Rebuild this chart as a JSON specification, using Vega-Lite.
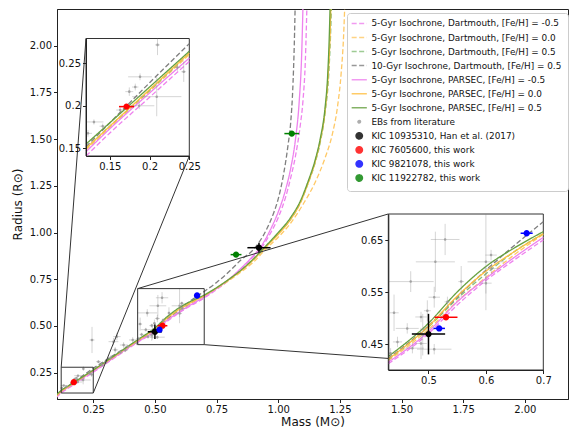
{
"$schema":"https://vega.github.io/schema/vega-lite/v6.json",
"width":511,"height":390,
"autosize":{"type":"none"},
"padding":{"left":57,"top":9,"right":1,"bottom":31},
"config":{
 "font":"DejaVu Sans",
 "view":{"stroke":"#222","strokeWidth":1},
 "axis":{"grid":false,"labelFontSize":10,"labelColor":"#111","tickColor":"#222","domainColor":"#222","tickSize":3.5,"labelFlush":false,"labelOverlap":false,"titleFontSize":12,"titleFontWeight":"normal","titleColor":"#111","labelPadding":2},
 "legend":{"symbolFillColor":"transparent","symbolStrokeColor":"transparent","symbolStrokeWidth":1.5,"symbolSize":40}
},
"datasets":{
 "curves":[
{"s":"D-0.5","m":0.10,"r":0.116},{"s":"D-0.5","m":0.12,"r":0.141},{"s":"D-0.5","m":0.15,"r":0.168},{"s":"D-0.5","m":0.20,"r":0.21},{"s":"D-0.5","m":0.25,"r":0.252},{"s":"D-0.5","m":0.30,"r":0.297},{"s":"D-0.5","m":0.35,"r":0.342},{"s":"D-0.5","m":0.40,"r":0.386},{"s":"D-0.5","m":0.43,"r":0.412},{"s":"D-0.5","m":0.50,"r":0.47},{"s":"D-0.5","m":0.55,"r":0.525},{"s":"D-0.5","m":0.60,"r":0.572},{"s":"D-0.5","m":0.65,"r":0.612},{"s":"D-0.5","m":0.70,"r":0.65},{"s":"D-0.5","m":0.75,"r":0.695},{"s":"D-0.5","m":0.80,"r":0.745},{"s":"D-0.5","m":0.85,"r":0.805},{"s":"D-0.5","m":0.90,"r":0.872},{"s":"D-0.5","m":0.93,"r":0.915},{"s":"D-0.5","m":0.97,"r":1.0},{"s":"D-0.5","m":1.00,"r":1.08},{"s":"D-0.5","m":1.03,"r":1.19},{"s":"D-0.5","m":1.05,"r":1.29},{"s":"D-0.5","m":1.07,"r":1.41},{"s":"D-0.5","m":1.09,"r":1.58},{"s":"D-0.5","m":1.10,"r":1.70},{"s":"D-0.5","m":1.11,"r":1.92},{"s":"D-0.5","m":1.118,"r":2.3},
{"s":"D0.0","m":0.10,"r":0.123},{"s":"D0.0","m":0.12,"r":0.148},{"s":"D0.0","m":0.15,"r":0.174},{"s":"D0.0","m":0.20,"r":0.217},{"s":"D0.0","m":0.25,"r":0.26},{"s":"D0.0","m":0.30,"r":0.303},{"s":"D0.0","m":0.35,"r":0.347},{"s":"D0.0","m":0.40,"r":0.39},{"s":"D0.0","m":0.43,"r":0.418},{"s":"D0.0","m":0.50,"r":0.478},{"s":"D0.0","m":0.55,"r":0.532},{"s":"D0.0","m":0.60,"r":0.578},{"s":"D0.0","m":0.65,"r":0.622},{"s":"D0.0","m":0.70,"r":0.661},{"s":"D0.0","m":0.75,"r":0.70},{"s":"D0.0","m":0.80,"r":0.743},{"s":"D0.0","m":0.85,"r":0.79},{"s":"D0.0","m":0.90,"r":0.842},{"s":"D0.0","m":0.95,"r":0.912},{"s":"D0.0","m":1.00,"r":0.975},{"s":"D0.0","m":1.05,"r":1.05},{"s":"D0.0","m":1.10,"r":1.15},{"s":"D0.0","m":1.15,"r":1.27},{"s":"D0.0","m":1.19,"r":1.40},{"s":"D0.0","m":1.22,"r":1.53},{"s":"D0.0","m":1.24,"r":1.67},{"s":"D0.0","m":1.255,"r":1.85},{"s":"D0.0","m":1.265,"r":2.05},{"s":"D0.0","m":1.272,"r":2.3},
{"s":"D0.5","m":0.10,"r":0.125},{"s":"D0.5","m":0.12,"r":0.15},{"s":"D0.5","m":0.15,"r":0.176},{"s":"D0.5","m":0.20,"r":0.218},{"s":"D0.5","m":0.25,"r":0.262},{"s":"D0.5","m":0.30,"r":0.305},{"s":"D0.5","m":0.35,"r":0.348},{"s":"D0.5","m":0.40,"r":0.392},{"s":"D0.5","m":0.43,"r":0.42},{"s":"D0.5","m":0.50,"r":0.483},{"s":"D0.5","m":0.55,"r":0.537},{"s":"D0.5","m":0.60,"r":0.585},{"s":"D0.5","m":0.65,"r":0.628},{"s":"D0.5","m":0.70,"r":0.662},{"s":"D0.5","m":0.75,"r":0.703},{"s":"D0.5","m":0.80,"r":0.748},{"s":"D0.5","m":0.85,"r":0.798},{"s":"D0.5","m":0.90,"r":0.855},{"s":"D0.5","m":0.94,"r":0.91},{"s":"D0.5","m":1.00,"r":0.995},{"s":"D0.5","m":1.05,"r":1.07},{"s":"D0.5","m":1.09,"r":1.16},{"s":"D0.5","m":1.12,"r":1.26},{"s":"D0.5","m":1.15,"r":1.375},{"s":"D0.5","m":1.17,"r":1.48},{"s":"D0.5","m":1.19,"r":1.64},{"s":"D0.5","m":1.205,"r":1.85},{"s":"D0.5","m":1.212,"r":2.05},{"s":"D0.5","m":1.218,"r":2.3},
{"s":"D10","m":0.10,"r":0.127},{"s":"D10","m":0.12,"r":0.152},{"s":"D10","m":0.15,"r":0.18},{"s":"D10","m":0.20,"r":0.227},{"s":"D10","m":0.25,"r":0.273},{"s":"D10","m":0.30,"r":0.316},{"s":"D10","m":0.35,"r":0.358},{"s":"D10","m":0.40,"r":0.398},{"s":"D10","m":0.43,"r":0.422},{"s":"D10","m":0.50,"r":0.485},{"s":"D10","m":0.55,"r":0.54},{"s":"D10","m":0.60,"r":0.592},{"s":"D10","m":0.65,"r":0.64},{"s":"D10","m":0.70,"r":0.685},{"s":"D10","m":0.75,"r":0.733},{"s":"D10","m":0.80,"r":0.79},{"s":"D10","m":0.85,"r":0.855},{"s":"D10","m":0.90,"r":0.91},{"s":"D10","m":0.95,"r":1.01},{"s":"D10","m":0.98,"r":1.10},{"s":"D10","m":1.00,"r":1.18},{"s":"D10","m":1.02,"r":1.30},{"s":"D10","m":1.04,"r":1.47},{"s":"D10","m":1.05,"r":1.58},{"s":"D10","m":1.06,"r":1.80},{"s":"D10","m":1.065,"r":2.0},{"s":"D10","m":1.07,"r":2.3},
{"s":"P-0.5","m":0.10,"r":0.121},{"s":"P-0.5","m":0.12,"r":0.146},{"s":"P-0.5","m":0.15,"r":0.173},{"s":"P-0.5","m":0.20,"r":0.215},{"s":"P-0.5","m":0.25,"r":0.256},{"s":"P-0.5","m":0.30,"r":0.30},{"s":"P-0.5","m":0.35,"r":0.345},{"s":"P-0.5","m":0.40,"r":0.39},{"s":"P-0.5","m":0.43,"r":0.415},{"s":"P-0.5","m":0.50,"r":0.474},{"s":"P-0.5","m":0.55,"r":0.531},{"s":"P-0.5","m":0.60,"r":0.576},{"s":"P-0.5","m":0.65,"r":0.617},{"s":"P-0.5","m":0.70,"r":0.655},{"s":"P-0.5","m":0.75,"r":0.70},{"s":"P-0.5","m":0.80,"r":0.75},{"s":"P-0.5","m":0.85,"r":0.81},{"s":"P-0.5","m":0.90,"r":0.878},{"s":"P-0.5","m":0.93,"r":0.925},{"s":"P-0.5","m":0.97,"r":1.02},{"s":"P-0.5","m":1.00,"r":1.11},{"s":"P-0.5","m":1.03,"r":1.23},{"s":"P-0.5","m":1.05,"r":1.34},{"s":"P-0.5","m":1.07,"r":1.50},{"s":"P-0.5","m":1.085,"r":1.70},{"s":"P-0.5","m":1.095,"r":1.95},{"s":"P-0.5","m":1.102,"r":2.3},
{"s":"P0.0","m":0.10,"r":0.124},{"s":"P0.0","m":0.12,"r":0.15},{"s":"P0.0","m":0.15,"r":0.176},{"s":"P0.0","m":0.20,"r":0.219},{"s":"P0.0","m":0.25,"r":0.262},{"s":"P0.0","m":0.30,"r":0.306},{"s":"P0.0","m":0.35,"r":0.35},{"s":"P0.0","m":0.40,"r":0.395},{"s":"P0.0","m":0.43,"r":0.421},{"s":"P0.0","m":0.50,"r":0.484},{"s":"P0.0","m":0.55,"r":0.542},{"s":"P0.0","m":0.60,"r":0.59},{"s":"P0.0","m":0.65,"r":0.628},{"s":"P0.0","m":0.70,"r":0.662},{"s":"P0.0","m":0.75,"r":0.703},{"s":"P0.0","m":0.80,"r":0.748},{"s":"P0.0","m":0.85,"r":0.797},{"s":"P0.0","m":0.90,"r":0.855},{"s":"P0.0","m":0.94,"r":0.91},{"s":"P0.0","m":1.00,"r":0.99},{"s":"P0.0","m":1.05,"r":1.07},{"s":"P0.0","m":1.09,"r":1.16},{"s":"P0.0","m":1.12,"r":1.26},{"s":"P0.0","m":1.15,"r":1.38},{"s":"P0.0","m":1.17,"r":1.49},{"s":"P0.0","m":1.19,"r":1.65},{"s":"P0.0","m":1.202,"r":1.83},{"s":"P0.0","m":1.21,"r":2.05},{"s":"P0.0","m":1.215,"r":2.3},
{"s":"P0.5","m":0.10,"r":0.13},{"s":"P0.5","m":0.12,"r":0.155},{"s":"P0.5","m":0.15,"r":0.18},{"s":"P0.5","m":0.20,"r":0.222},{"s":"P0.5","m":0.25,"r":0.264},{"s":"P0.5","m":0.30,"r":0.309},{"s":"P0.5","m":0.35,"r":0.354},{"s":"P0.5","m":0.40,"r":0.399},{"s":"P0.5","m":0.43,"r":0.426},{"s":"P0.5","m":0.50,"r":0.49},{"s":"P0.5","m":0.55,"r":0.55},{"s":"P0.5","m":0.60,"r":0.599},{"s":"P0.5","m":0.65,"r":0.635},{"s":"P0.5","m":0.70,"r":0.666},{"s":"P0.5","m":0.75,"r":0.705},{"s":"P0.5","m":0.80,"r":0.75},{"s":"P0.5","m":0.85,"r":0.80},{"s":"P0.5","m":0.90,"r":0.86},{"s":"P0.5","m":0.94,"r":0.915},{"s":"P0.5","m":1.00,"r":1.0},{"s":"P0.5","m":1.05,"r":1.08},{"s":"P0.5","m":1.09,"r":1.17},{"s":"P0.5","m":1.12,"r":1.27},{"s":"P0.5","m":1.15,"r":1.39},{"s":"P0.5","m":1.17,"r":1.50},{"s":"P0.5","m":1.19,"r":1.67},{"s":"P0.5","m":1.20,"r":1.83},{"s":"P0.5","m":1.207,"r":2.05},{"s":"P0.5","m":1.212,"r":2.3}
 ],
 "ebs":[
{"s":"EB","m":0.21,"r":0.2715,"mlo":0.207,"mhi":0.213,"rlo":0.2595,"rhi":0.2835},
{"s":"EB","m":0.188,"r":0.234,"mlo":0.173,"mhi":0.203,"rlo":0.230,"rhi":0.238},
{"s":"EB","m":0.1745,"r":0.2166,"mlo":0.1695,"mhi":0.1795,"rlo":0.2116,"rhi":0.2216},
{"s":"EB","m":0.182,"r":0.222,"mlo":0.178,"mhi":0.186,"rlo":0.218,"rhi":0.226},
{"s":"EB","m":0.187,"r":0.200,"mlo":0.168,"mhi":0.206,"rlo":0.196,"rhi":0.204},
{"s":"EB","m":0.209,"r":0.2107,"mlo":0.178,"mhi":0.24,"rlo":0.1877,"rhi":0.2337},
{"s":"EB","m":0.243,"r":0.240,"mlo":0.24,"mhi":0.246,"rlo":0.228,"rhi":0.252},
{"s":"EB","m":0.235,"r":0.245,"mlo":0.231,"mhi":0.239,"rlo":0.241,"rhi":0.249},
{"s":"EB","m":0.1225,"r":0.1676,"mlo":0.1175,"mhi":0.1275,"rlo":0.1636,"rhi":0.1716},
{"s":"EB","m":0.141,"r":0.176,"mlo":0.137,"mhi":0.145,"rlo":0.173,"rhi":0.179},
{"s":"EB","m":0.163,"r":0.195,"mlo":0.158,"mhi":0.168,"rlo":0.191,"rhi":0.199},
{"s":"EB","m":0.13,"r":0.181,"mlo":0.118,"mhi":0.142,"rlo":0.178,"rhi":0.184},
{"s":"EB","m":0.245,"r":0.425,"mlo":0.235,"mhi":0.255,"rlo":0.355,"rhi":0.495},
{"s":"EB","m":0.271,"r":0.309,"mlo":0.261,"mhi":0.281,"rlo":0.301,"rhi":0.317},
{"s":"EB","m":0.285,"r":0.291,"mlo":0.275,"mhi":0.295,"rlo":0.281,"rhi":0.301},
{"s":"EB","m":0.30,"r":0.305,"mlo":0.292,"mhi":0.308,"rlo":0.297,"rhi":0.313},
{"s":"EB","m":0.32,"r":0.33,"mlo":0.31,"mhi":0.33,"rlo":0.318,"rhi":0.342},
{"s":"EB","m":0.339,"r":0.372,"mlo":0.327,"mhi":0.351,"rlo":0.357,"rhi":0.387},
{"s":"EB","m":0.346,"r":0.443,"mlo":0.331,"mhi":0.361,"rlo":0.423,"rhi":0.463},
{"s":"EB","m":0.373,"r":0.398,"mlo":0.358,"mhi":0.388,"rlo":0.383,"rhi":0.413},
{"s":"EB","m":0.332,"r":0.416,"mlo":0.312,"mhi":0.352,"rlo":0.396,"rhi":0.436},
{"s":"EB","m":0.38,"r":0.37,"mlo":0.37,"mhi":0.39,"rlo":0.36,"rhi":0.38},
{"s":"EB","m":0.39,"r":0.39,"mlo":0.378,"mhi":0.402,"rlo":0.38,"rhi":0.40},
{"s":"EB","m":0.41,"r":0.425,"mlo":0.395,"mhi":0.425,"rlo":0.41,"rhi":0.44},
{"s":"EB","m":0.427,"r":0.407,"mlo":0.417,"mhi":0.437,"rlo":0.397,"rhi":0.417},
{"s":"EB","m":0.36,"r":0.36,"mlo":0.35,"mhi":0.37,"rlo":0.35,"rhi":0.37},
{"s":"EB","m":0.529,"r":0.651,"mlo":0.504,"mhi":0.554,"rlo":0.621,"rhi":0.681},
{"s":"EB","m":0.512,"r":0.608,"mlo":0.478,"mhi":0.546,"rlo":0.55,"rhi":0.666},
{"s":"EB","m":0.469,"r":0.570,"mlo":0.429,"mhi":0.509,"rlo":0.55,"rhi":0.59},
{"s":"EB","m":0.510,"r":0.540,"mlo":0.50,"mhi":0.52,"rlo":0.52,"rhi":0.56},
{"s":"EB","m":0.557,"r":0.570,"mlo":0.552,"mhi":0.562,"rlo":0.54,"rhi":0.60},
{"s":"EB","m":0.533,"r":0.531,"mlo":0.528,"mhi":0.538,"rlo":0.521,"rhi":0.541},
{"s":"EB","m":0.600,"r":0.608,"mlo":0.568,"mhi":0.632,"rlo":0.515,"rhi":0.701},
{"s":"EB","m":0.609,"r":0.621,"mlo":0.599,"mhi":0.619,"rlo":0.611,"rhi":0.631},
{"s":"EB","m":0.600,"r":0.567,"mlo":0.59,"mhi":0.61,"rlo":0.547,"rhi":0.587},
{"s":"EB","m":0.61,"r":0.595,"mlo":0.595,"mhi":0.625,"rlo":0.585,"rhi":0.605},
{"s":"EB","m":0.44,"r":0.51,"mlo":0.432,"mhi":0.448,"rlo":0.475,"rhi":0.545},
{"s":"EB","m":0.463,"r":0.48,"mlo":0.443,"mhi":0.483,"rlo":0.47,"rhi":0.49},
{"s":"EB","m":0.487,"r":0.502,"mlo":0.477,"mhi":0.497,"rlo":0.492,"rhi":0.512},
{"s":"EB","m":0.498,"r":0.514,"mlo":0.492,"mhi":0.504,"rlo":0.494,"rhi":0.534},
{"s":"EB","m":0.487,"r":0.451,"mlo":0.477,"mhi":0.497,"rlo":0.421,"rhi":0.481},
{"s":"EB","m":0.446,"r":0.454,"mlo":0.438,"mhi":0.454,"rlo":0.444,"rhi":0.464},
{"s":"EB","m":0.472,"r":0.442,"mlo":0.452,"mhi":0.492,"rlo":0.432,"rhi":0.452},
{"s":"EB","m":0.51,"r":0.44,"mlo":0.48,"mhi":0.54,"rlo":0.43,"rhi":0.45},
{"s":"EB","m":0.434,"r":0.432,"mlo":0.424,"mhi":0.444,"rlo":0.422,"rhi":0.442},
{"s":"EB","m":0.49,"r":0.468,"mlo":0.485,"mhi":0.495,"rlo":0.428,"rhi":0.508}
 ],
 "kic":[
{"s":"K1","m":0.922,"r":0.919,"mlo":0.875,"mhi":0.969,"rlo":0.892,"rhi":0.946},
{"s":"K1","m":0.500,"r":0.469,"mlo":0.471,"mhi":0.529,"rlo":0.430,"rhi":0.508},
{"s":"K2","m":0.5305,"r":0.5014,"mlo":0.5105,"mhi":0.5505,"rlo":0.4984,"rhi":0.5044},
{"s":"K2","m":0.171,"r":0.199,"mlo":0.1615,"mhi":0.1805,"rlo":0.196,"rhi":0.202},
{"s":"K3","m":0.671,"r":0.663,"mlo":0.6605,"mhi":0.6815,"rlo":0.660,"rhi":0.666},
{"s":"K3","m":0.5187,"r":0.480,"mlo":0.5087,"mhi":0.5287,"rlo":0.477,"rhi":0.483},
{"s":"K4","m":1.055,"r":1.53,"mlo":1.025,"mhi":1.085,"rlo":1.52,"rhi":1.54},
{"s":"K4","m":0.829,"r":0.882,"mlo":0.807,"mhi":0.851,"rlo":0.877,"rhi":0.887}
 ]
},
"layer":[
 {"layer":[
  {"data":{"name":"curves"},"mark":{"type":"line","strokeWidth":1.3,"clip":true,"interpolate":"monotone"},
   "encoding":{
    "x":{"field":"m","type":"quantitative","title":"Mass (M⊙)","scale":{"domain":[0.103,2.175],"nice":false,"zero":false},"axis":{"values":[0.25,0.5,0.75,1,1.25,1.5,1.75,2],"format":".2f","titlePadding":2}},
    "y":{"field":"r","type":"quantitative","title":"Radius (R⊙)","scale":{"domain":[0.109,2.197],"nice":false,"zero":false},"axis":{"values":[0.25,0.5,0.75,1,1.25,1.5,1.75,2],"format":".2f","titlePadding":5}},
    "color":{"field":"s","type":"nominal","title":null,
      "scale":{"domain":["D-0.5","D0.0","D0.5","D10","P-0.5","P0.0","P0.5","EB","K1","K2","K3","K4"],
               "range":["#EE82EE","#FFC966","#86BF7A","#7F7F7F","#EE82EE","#FFBF40","#66A040","#999999","#000000","#FF0000","#0000FF","#008000"]},
      "legend":{"title":null,"orient":"none","legendX":290,"legendY":4,"padding":6,"strokeColor":"#ccc","fillColor":"white","cornerRadius":3,"labelFontSize":8.9,"labelColor":"#111","labelLimit":400,"rowPadding":1.05,"gridAlign":"all","symbolOffset":1.8,"labelOffset":7.7,
        "labelExpr":"{'D-0.5':'5-Gyr Isochrone, Dartmouth, [Fe/H] = -0.5','D0.0':'5-Gyr Isochrone, Dartmouth, [Fe/H] = 0.0','D0.5':'5-Gyr Isochrone, Dartmouth, [Fe/H] = 0.5','D10':'10-Gyr Isochrone, Dartmouth, [Fe/H] = 0.5','P-0.5':'5-Gyr Isochrone, PARSEC, [Fe/H] = -0.5','P0.0':'5-Gyr Isochrone, PARSEC, [Fe/H] = 0.0','P0.5':'5-Gyr Isochrone, PARSEC, [Fe/H] = 0.5','EB':'EBs from literature','K1':'KIC 10935310, Han et al. (2017)','K2':'KIC 7605600, this work','K3':'KIC 9821078, this work','K4':'KIC 11922782, this work'}[datum.value]"}},
    "strokeDash":{"field":"s","type":"nominal","title":null,"scale":{"domain":["D-0.5","D0.0","D0.5","D10","P-0.5","P0.0","P0.5","EB","K1","K2","K3","K4"],"range":[[5,2.5],[5,2.5],[5,2.5],[5,2.5],[1,0],[1,0],[1,0],[1,0],[1,0],[1,0],[1,0],[1,0]]}}
   }},
  {"data":{"name":"ebs"},"mark":{"type":"rule","color":"#888","opacity":0.35,"strokeWidth":1,"clip":true},
   "encoding":{"x":{"field":"mlo","type":"quantitative","title":"Mass (M⊙)"},"x2":{"field":"mhi"},"y":{"field":"r","type":"quantitative","title":"Radius (R⊙)"}}},
  {"data":{"name":"ebs"},"mark":{"type":"rule","color":"#888","opacity":0.35,"strokeWidth":1,"clip":true},
   "encoding":{"x":{"field":"m","type":"quantitative","title":"Mass (M⊙)"},"y":{"field":"rlo","type":"quantitative","title":"Radius (R⊙)"},"y2":{"field":"rhi"}}},
  {"data":{"name":"ebs"},"mark":{"type":"point","filled":true,"size":40,"opacity":0.8,"clip":true},
   "encoding":{"x":{"field":"m","type":"quantitative","title":"Mass (M⊙)"},"y":{"field":"r","type":"quantitative","title":"Radius (R⊙)"},"color":{"field":"s","type":"nominal","title":null},
    "shape":{"field":"s","type":"nominal","title":null,"scale":{"domain":["D-0.5","D0.0","D0.5","D10","P-0.5","P0.0","P0.5","EB","K1","K2","K3","K4"],"range":["M-2.4,0H2.4","M-2.4,0H2.4","M-2.4,0H2.4","M-2.4,0H2.4","M-2.4,0H2.4","M-2.4,0H2.4","M-2.4,0H2.4","M0.4,0A0.4,0.4,0,1,1,-0.4,0A0.4,0.4,0,1,1,0.4,0Z","M1,0A1,1,0,1,1,-1,0A1,1,0,1,1,1,0Z","M1,0A1,1,0,1,1,-1,0A1,1,0,1,1,1,0Z","M1,0A1,1,0,1,1,-1,0A1,1,0,1,1,1,0Z","M1,0A1,1,0,1,1,-1,0A1,1,0,1,1,1,0Z"]}}}},
  {"data":{"name":"kic"},"mark":{"type":"rule","strokeWidth":1.5,"clip":true},
   "encoding":{"x":{"field":"mlo","type":"quantitative","title":"Mass (M⊙)"},"x2":{"field":"mhi"},"y":{"field":"r","type":"quantitative","title":"Radius (R⊙)"},"color":{"field":"s","type":"nominal","title":null}}},
  {"data":{"name":"kic"},"mark":{"type":"rule","strokeWidth":1.5,"clip":true},
   "encoding":{"x":{"field":"m","type":"quantitative","title":"Mass (M⊙)"},"y":{"field":"rlo","type":"quantitative","title":"Radius (R⊙)"},"y2":{"field":"rhi"},"color":{"field":"s","type":"nominal","title":null}}},
  {"data":{"name":"kic"},"mark":{"type":"point","filled":true,"size":40,"opacity":1,"clip":true},
   "encoding":{"x":{"field":"m","type":"quantitative","title":"Mass (M⊙)"},"y":{"field":"r","type":"quantitative","title":"Radius (R⊙)"},"color":{"field":"s","type":"nominal","title":null},"shape":{"field":"s","type":"nominal","title":null}}},
  {"data":{"values":[{"x1":0.12,"x2":0.25,"y1":0.141,"y2":0.279},{"x1":0.43,"x2":0.70,"y1":0.40,"y2":0.70}]},
   "mark":{"type":"rect","fill":"transparent","stroke":"#333","strokeWidth":1},
   "encoding":{"x":{"field":"x1","type":"quantitative","title":"Mass (M⊙)"},"x2":{"field":"x2"},"y":{"field":"y1","type":"quantitative","title":"Radius (R⊙)"},"y2":{"field":"y2"}}},
  {"data":{"values":[{"x1":0.12,"y1":0.279,"x2":0.2206,"y2":2.039},{"x1":0.25,"y1":0.141,"x2":0.6395,"y2":1.410},{"x1":0.43,"y1":0.70,"x2":1.446,"y2":1.0995},{"x1":0.70,"y1":0.40,"x2":2.075,"y2":0.264}]},
   "mark":{"type":"rule","color":"#333","strokeWidth":1},
   "encoding":{"x":{"field":"x1","type":"quantitative","title":"Mass (M⊙)"},"x2":{"field":"x2"},"y":{"field":"y1","type":"quantitative","title":"Radius (R⊙)"},"y2":{"field":"y2"}}}
 ]},
 {"layer":[
  {"data":{"values":[{"x1":0.12,"x2":0.25,"y1":0.141,"y2":0.279}]},
   "mark":{"type":"rect","fill":"white","stroke":"#333","strokeWidth":1},
   "encoding":{
    "x":{"field":"x1","type":"quantitative","title":null,"scale":{"domain":[0.12,0.25],"range":[29,132.3],"nice":false,"zero":false,"clamp":true},"axis":{"orient":"bottom","offset":-243,"values":[0.15,0.2,0.25],"format":"~g","title":null,"zindex":1}},
    "x2":{"field":"x2"},
    "y":{"field":"y1","type":"quantitative","title":null,"scale":{"domain":[0.141,0.279],"range":[147,29.5],"nice":false,"zero":false,"clamp":true},"axis":{"orient":"left","offset":-29,"values":[0.15,0.2,0.25],"format":"~g","title":null,"zindex":1}},
    "y2":{"field":"y2"}}},
  {"data":{"name":"curves"},"transform":[{"filter":{"field":"m","range":[0.12,0.25]}}],
   "mark":{"type":"line","strokeWidth":1.3,"interpolate":"monotone"},
   "encoding":{"x":{"field":"m","type":"quantitative","title":null},"y":{"field":"r","type":"quantitative","title":null},"color":{"field":"s","type":"nominal","title":null},
    "strokeDash":{"field":"s","type":"nominal","title":null}}},
  {"data":{"name":"ebs"},"transform":[{"filter":{"and":[{"field":"m","range":[0.12,0.25]},{"field":"r","range":[0.141,0.279]}]}}],
   "mark":{"type":"rule","color":"#888","opacity":0.35,"strokeWidth":1},
   "encoding":{"x":{"field":"mlo","type":"quantitative","title":null},"x2":{"field":"mhi"},"y":{"field":"r","type":"quantitative","title":null}}},
  {"data":{"name":"ebs"},"transform":[{"filter":{"and":[{"field":"m","range":[0.12,0.25]},{"field":"r","range":[0.141,0.279]}]}}],
   "mark":{"type":"rule","color":"#888","opacity":0.35,"strokeWidth":1},
   "encoding":{"x":{"field":"m","type":"quantitative","title":null},"y":{"field":"rlo","type":"quantitative","title":null},"y2":{"field":"rhi"}}},
  {"data":{"name":"ebs"},"transform":[{"filter":{"and":[{"field":"m","range":[0.12,0.25]},{"field":"r","range":[0.141,0.279]}]}}],
   "mark":{"type":"point","filled":true,"size":40,"opacity":0.8},
   "encoding":{"x":{"field":"m","type":"quantitative","title":null},"y":{"field":"r","type":"quantitative","title":null},"color":{"field":"s","type":"nominal","title":null},"shape":{"field":"s","type":"nominal","title":null}}},
  {"data":{"name":"kic"},"transform":[{"filter":{"and":[{"field":"m","range":[0.12,0.25]},{"field":"r","range":[0.141,0.279]}]}}],
   "mark":{"type":"rule","strokeWidth":1.5},
   "encoding":{"x":{"field":"mlo","type":"quantitative","title":null},"x2":{"field":"mhi"},"y":{"field":"r","type":"quantitative","title":null},"color":{"field":"s","type":"nominal","title":null}}},
  {"data":{"name":"kic"},"transform":[{"filter":{"and":[{"field":"m","range":[0.12,0.25]},{"field":"r","range":[0.141,0.279]}]}}],
   "mark":{"type":"point","filled":true,"size":40,"opacity":1},
   "encoding":{"x":{"field":"m","type":"quantitative","title":null},"y":{"field":"r","type":"quantitative","title":null},"color":{"field":"s","type":"nominal","title":null},"shape":{"field":"s","type":"nominal","title":null}}}
 ]},
 {"layer":[
  {"data":{"values":[{"x1":0.43,"x2":0.70,"y1":0.40,"y2":0.70}]},
   "mark":{"type":"rect","fill":"white","stroke":"#333","strokeWidth":1},
   "encoding":{
    "x":{"field":"x1","type":"quantitative","title":null,"scale":{"domain":[0.43,0.70],"range":[331.3,486.3],"nice":false,"zero":false,"clamp":true},"axis":{"orient":"bottom","offset":-29,"values":[0.5,0.6,0.7],"format":"~g","title":null,"zindex":1}},
    "x2":{"field":"x2"},
    "y":{"field":"y1","type":"quantitative","title":null,"scale":{"domain":[0.40,0.70],"range":[361,205],"nice":false,"zero":false,"clamp":true},"axis":{"orient":"left","offset":-331.3,"values":[0.45,0.55,0.65],"format":"~g","title":null,"zindex":1}},
    "y2":{"field":"y2"}}},
  {"data":{"name":"curves"},"transform":[{"filter":{"field":"m","range":[0.43,0.70]}}],
   "mark":{"type":"line","strokeWidth":1.3,"interpolate":"monotone"},
   "encoding":{"x":{"field":"m","type":"quantitative","title":null},"y":{"field":"r","type":"quantitative","title":null},"color":{"field":"s","type":"nominal","title":null},
    "strokeDash":{"field":"s","type":"nominal","title":null}}},
  {"data":{"name":"ebs"},"transform":[{"filter":{"and":[{"field":"m","range":[0.43,0.70]},{"field":"r","range":[0.40,0.70]}]}}],
   "mark":{"type":"rule","color":"#888","opacity":0.35,"strokeWidth":1},
   "encoding":{"x":{"field":"mlo","type":"quantitative","title":null},"x2":{"field":"mhi"},"y":{"field":"r","type":"quantitative","title":null}}},
  {"data":{"name":"ebs"},"transform":[{"filter":{"and":[{"field":"m","range":[0.43,0.70]},{"field":"r","range":[0.40,0.70]}]}}],
   "mark":{"type":"rule","color":"#888","opacity":0.35,"strokeWidth":1},
   "encoding":{"x":{"field":"m","type":"quantitative","title":null},"y":{"field":"rlo","type":"quantitative","title":null},"y2":{"field":"rhi"}}},
  {"data":{"name":"ebs"},"transform":[{"filter":{"and":[{"field":"m","range":[0.43,0.70]},{"field":"r","range":[0.40,0.70]}]}}],
   "mark":{"type":"point","filled":true,"size":40,"opacity":0.8},
   "encoding":{"x":{"field":"m","type":"quantitative","title":null},"y":{"field":"r","type":"quantitative","title":null},"color":{"field":"s","type":"nominal","title":null},"shape":{"field":"s","type":"nominal","title":null}}},
  {"data":{"name":"kic"},"transform":[{"filter":{"and":[{"field":"m","range":[0.43,0.70]},{"field":"r","range":[0.40,0.70]}]}}],
   "mark":{"type":"rule","strokeWidth":1.5},
   "encoding":{"x":{"field":"mlo","type":"quantitative","title":null},"x2":{"field":"mhi"},"y":{"field":"r","type":"quantitative","title":null},"color":{"field":"s","type":"nominal","title":null}}},
  {"data":{"name":"kic"},"transform":[{"filter":{"and":[{"field":"m","range":[0.43,0.70]},{"field":"r","range":[0.40,0.70]}]}}],
   "mark":{"type":"rule","strokeWidth":1.5},
   "encoding":{"x":{"field":"m","type":"quantitative","title":null},"y":{"field":"rlo","type":"quantitative","title":null},"y2":{"field":"rhi"},"color":{"field":"s","type":"nominal","title":null}}},
  {"data":{"name":"kic"},"transform":[{"filter":{"and":[{"field":"m","range":[0.43,0.70]},{"field":"r","range":[0.40,0.70]}]}}],
   "mark":{"type":"point","filled":true,"size":40,"opacity":1},
   "encoding":{"x":{"field":"m","type":"quantitative","title":null},"y":{"field":"r","type":"quantitative","title":null},"color":{"field":"s","type":"nominal","title":null},"shape":{"field":"s","type":"nominal","title":null}}}
 ]}
],
"resolve":{"scale":{"x":"independent","y":"independent"}}
}
